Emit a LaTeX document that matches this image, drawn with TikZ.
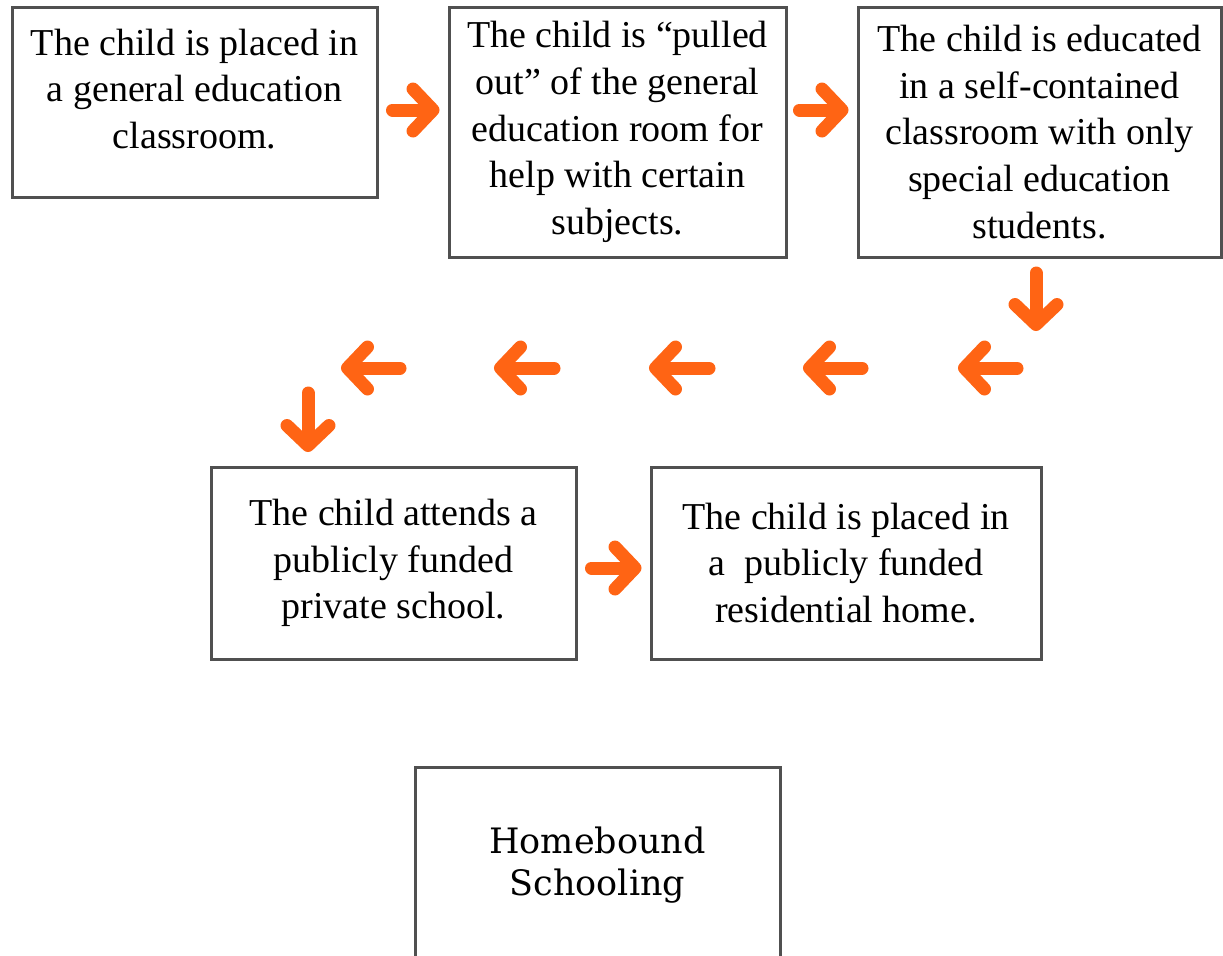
\documentclass[tikz,border=0pt]{standalone}
\usepackage{fontspec}
\setmainfont{Liberation Serif}
\newfontfamily\homefont{DejaVu Serif}
\usetikzlibrary{positioning,arrows.meta,calc}
\definecolor{flowor}{RGB}{255,100,20}
\definecolor{edgegray}{RGB}{80,80,80}

\begin{document}
\begin{tikzpicture}[x=0.5pt,y=-0.5pt,
    box/.style={draw=edgegray, line width=1.5pt, align=center, inner sep=0pt,
        font=\fontsize{19}{23.3}\selectfont},
    flow/.style={draw=flowor, line width=6.5pt, line cap=round,
        -{Straight Barb[length=10pt,width=21pt,round]}}]
\useasboundingbox (0,0) rectangle (1223,955);

% Boxes
\node[box, minimum width=182.5pt, minimum height=95pt] (b1) at (194.5,102)
    {The child is placed in\\a general education\\classroom.\\[-10pt]};
\node[box, minimum width=168.5pt, minimum height=125pt] (b2) at (617.5,132)
    {The child is “pulled\\out” of the general\\education room for\\help with certain\\subjects.};
\node[box, minimum width=181.5pt, minimum height=125pt] (b3) at (1039.5,132)
    {The child is educated\\in a self-contained\\classroom with only\\special education\\students.};
\node[box, minimum width=182.5pt, minimum height=96pt] (b4) at (393.5,563)
    {The child attends a\\publicly funded\\private school.};
\node[box, minimum width=195pt, minimum height=96pt] (b5) at (846,563)
    {The child is placed in\\a \ publicly funded\\residential home.};
\node[box, minimum width=182.5pt, minimum height=98pt,
    font=\homefont\fontsize{17.5}{21}\selectfont] (b6) at (597.5,865)
    {Homebound\\Schooling};

% Arrows between boxes
\draw[flow, shorten <=7pt, shorten >=4pt] (b1.east |- 0,110) -- (b2.west |- 0,110);
\draw[flow, shorten <=6pt, shorten >=4pt] (b2.east |- 0,110) -- (b3.west |- 0,110);
\draw[flow, shorten <=7pt, shorten >=4pt] (b4.east |- 0,568) -- (b5.west |- 0,568);

% Loop back along the middle row
\coordinate (d1) at (1036,273);
\coordinate (d2) at (1036,331);
\draw[flow] (d1) -- (d2);
\foreach \xa/\xb [count=\i] in {1017/958, 862/803, 709/649, 554/494, 400/341} {
    \coordinate (l\i a) at (\xa,368);
    \coordinate (l\i b) at (\xb,368);
    \draw[flow] (l\i a) -- (l\i b);
}
\coordinate (d3) at (308,393);
\coordinate (d4) at (308,452);
\draw[flow] (d3) -- (d4);
\end{tikzpicture}
\end{document}
